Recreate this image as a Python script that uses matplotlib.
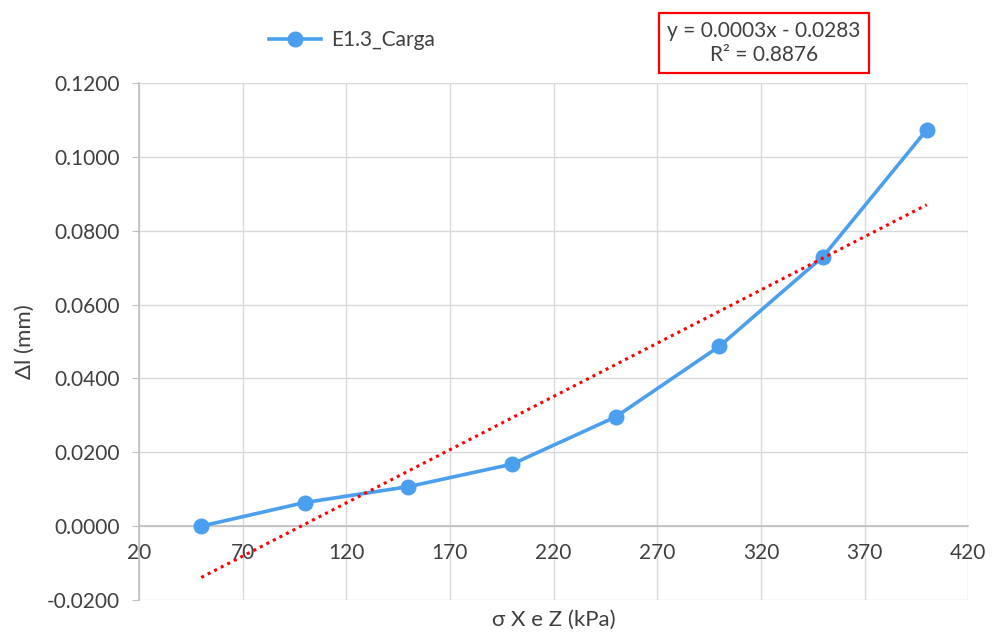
import numpy as np
import matplotlib
matplotlib.use("Agg")
import matplotlib.pyplot as plt
from matplotlib.ticker import FuncFormatter, FixedLocator

plt.rcParams['font.family'] = ['Lato', 'DejaVu Sans']

# Loading stage E1.3: stress vs. displacement
stress_kpa = [50, 100, 150, 200, 250, 300, 350, 400]
delta_mm = [0.0000, 0.0064, 0.0107, 0.0168, 0.0296, 0.0487, 0.0730, 0.1073]
x_ticks = [20, 70, 120, 170, 220, 270, 320, 370, 420]
y_ticks = [-0.02, 0.0, 0.02, 0.04, 0.06, 0.08, 0.10, 0.12]
series_label = "E1.3_Carga"
x_label = "σ X e Z (kPa)"
y_label = "Δl (mm)"

blue = "#4A9FEE"
grid_c = "#D9D9D9"
axis_c = "#BFBFBF"
text_c = "#404040"

fig = plt.figure(figsize=(9.93, 6.36), dpi=100)
ax = fig.add_axes([0.140, 0.0566, 0.835, 0.8129])

ax.set_xlim(x_ticks[0], x_ticks[-1])
ax.set_ylim(y_ticks[0], y_ticks[-1])
ax.xaxis.set_major_locator(FixedLocator(x_ticks))
ax.yaxis.set_major_locator(FixedLocator(y_ticks))
ax.yaxis.set_major_formatter(FuncFormatter(lambda v, p: f"{v:.4f}"))
ax.xaxis.set_major_formatter(FuncFormatter(lambda v, p: f"{v:.0f}"))

ax.grid(True, color=grid_c, linewidth=1.0, zorder=0)
ax.set_axisbelow(True)
for s in ['top', 'right']:
    ax.spines[s].set_visible(False)
ax.spines['bottom'].set_position(('data', 0))
ax.spines['bottom'].set_color(axis_c)
ax.spines['left'].set_color(axis_c)
ax.spines['bottom'].set_linewidth(1.2)
ax.spines['left'].set_linewidth(1.2)
ax.tick_params(axis='x', length=0, pad=12, labelsize=15, labelcolor=text_c)
ax.tick_params(axis='y', length=5, color=axis_c, pad=9, labelsize=15, labelcolor=text_c)

# Data series
line, = ax.plot(stress_kpa, delta_mm, color=blue, linewidth=2.6, marker='o',
                markersize=10.5, label=series_label, zorder=3)

# Linear trend line
slope, intercept = np.polyfit(stress_kpa, delta_mm, 1)
xs = np.array([min(stress_kpa), max(stress_kpa)])
ax.plot(xs, slope * xs + intercept, color='#FF0000', linestyle=(0, (1, 1.4)),
        linewidth=2.2, zorder=4)
r2 = np.corrcoef(stress_kpa, delta_mm)[0, 1] ** 2

ax.set_xlabel(x_label, fontsize=16, color=text_c, labelpad=0)
ax.xaxis.set_label_coords(0.5, -0.02)
ax.set_ylabel(y_label, fontsize=16, color=text_c, labelpad=8)

fig.legend(handles=[line], loc='center', bbox_to_anchor=(352 / 993, 1 - 40 / 636),
           frameon=False, fontsize=15, handlelength=2.5, handletextpad=0.5,
           labelcolor=text_c)

sign = '-' if intercept < 0 else '+'
eq = f"y = {slope:.4f}x {sign} {abs(intercept):.4f}\nR² = {r2:.4f}"
fig.text(764 / 993, 1 - 43 / 636, eq, ha='center', va='center', fontsize=15,
         color=text_c, linespacing=1.25,
         bbox=dict(boxstyle='square,pad=0.4', facecolor='white', edgecolor='#FF0000', linewidth=1.6))

fig.savefig("out.png", dpi=100)
